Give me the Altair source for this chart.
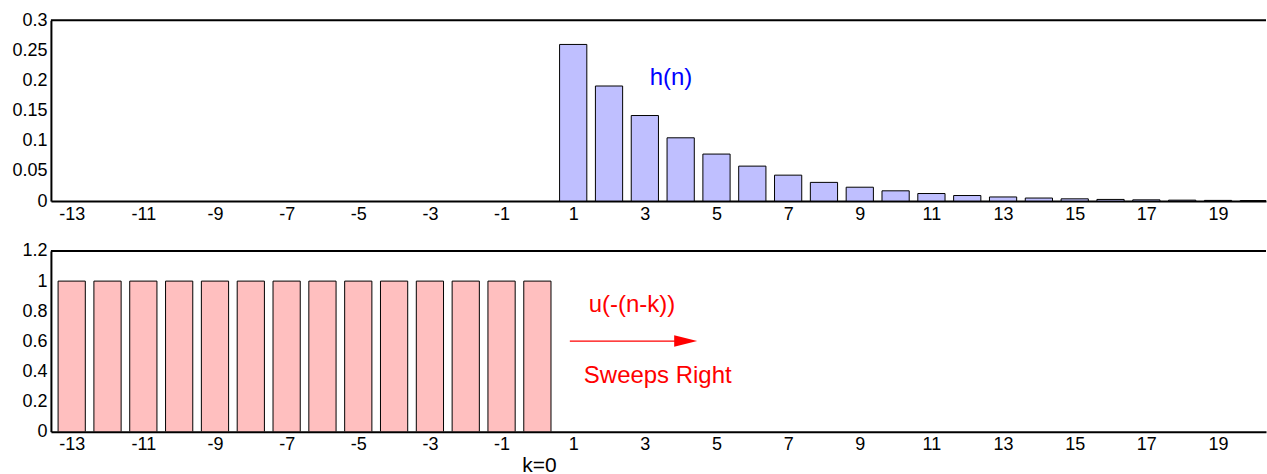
import altair as alt
import pandas as pd

FONT = "Liberation Sans"

# ---- data ----
n_top = [1, 2, 3, 4, 5, 6, 7, 8, 9, 10, 11, 12, 13, 14, 15, 16, 17, 18, 19, 20]
h_vals = [0.26, 0.191, 0.142, 0.105, 0.078, 0.058, 0.043, 0.031, 0.023, 0.017,
          0.0125, 0.0092, 0.0068, 0.005, 0.0037, 0.0027, 0.002, 0.0015, 0.0011, 0.0008]
n_bot = [-13, -12, -11, -10, -9, -8, -7, -6, -5, -4, -3, -2, -1, 0]
u_vals = [1, 1, 1, 1, 1, 1, 1, 1, 1, 1, 1, 1, 1, 1]
x_ticks = [-13, -11, -9, -7, -5, -3, -1, 1, 3, 5, 7, 9, 11, 13, 15, 17, 19]
y_ticks_top = [0, 0.05, 0.1, 0.15, 0.2, 0.25, 0.3]
y_ticks_bot = [0, 0.2, 0.4, 0.6, 0.8, 1, 1.2]

W = 1217
H = 181
XDOM = [-13.58, 20.34]
HALF = 0.38

top_df = pd.DataFrame({"n": n_top, "v": h_vals})
bot_df = pd.DataFrame({"n": n_bot, "v": u_vals})
one = pd.DataFrame({"a": [0]})

XS = alt.Scale(domain=XDOM, nice=False, zero=False)


def x_axis():
    return alt.Axis(values=x_ticks, ticks=False, grid=False, domainColor="black",
                    domainWidth=2, labelFont=FONT, labelFontSize=18, labelColor="black",
                    labelPadding=4, title=None, labelFlush=False, labelOverlap=False,
                    labelExpr="'' + datum.value")


def y_axis(vals):
    return alt.Axis(values=vals, ticks=False, grid=False, domainColor="black",
                    domainWidth=2, labelFont=FONT, labelFontSize=18, labelColor="black",
                    labelPadding=4, title=None, labelOverlap=False, labelFlush=False,
                    labelExpr="'' + datum.value")


def make_panel(df, ymax, yvals, fill, extras):
    ys = alt.Scale(domain=[0, ymax], nice=False, zero=True)
    xa = x_axis()
    ya = y_axis(yvals)
    bars = alt.Chart(df).transform_calculate(
        lo=f"datum.n - {HALF}", hi=f"datum.n + {HALF}"
    ).mark_bar(fill=fill, stroke="black", strokeWidth=1, clip=True).encode(
        x=alt.X("lo:Q", scale=XS, axis=xa),
        x2="hi:Q",
        y=alt.Y("v:Q", scale=ys, axis=ya),
        y2=alt.Y2(datum=0),
    )
    border = alt.Chart(one).mark_rule(color="black", strokeWidth=2).encode(
        x=alt.value(0), x2=alt.value(W), y=alt.value(0)
    )
    layers = [bars, border]
    for mark, xv, yv, x2v in extras:
        enc = {
            "x": alt.X(datum=xv, scale=XS, axis=xa),
            "y": (alt.Y(datum=yv, scale=ys, axis=ya) if not isinstance(yv, str) else alt.value(H + 40)),
        }
        if x2v is not None:
            enc["x2"] = alt.X2(datum=x2v)
        layers.append(mark.encode(**enc))
    return alt.layer(*layers).properties(width=W, height=H)


top = make_panel(
    top_df, 0.3, y_ticks_top, "#bfbfff",
    [
        (alt.Chart(one).mark_text(text="h(n)", font=FONT, fontSize=24, color="#0000ff",
                                  align="center", baseline="middle"), 3.73, 0.204, None),
    ],
)

bottom = make_panel(
    bot_df, 1.2, y_ticks_bot, "#ffbfbf",
    [
        (alt.Chart(one).mark_text(text="u(-(n-k))", font=FONT, fontSize=24, color="#ff0000",
                                  align="center", baseline="alphabetic"), 2.64, 0.795, None),
        (alt.Chart(one).mark_text(text="Sweeps Right", font=FONT, fontSize=24, color="#ff0000",
                                  align="center", baseline="alphabetic"), 3.36, 0.323, None),
        (alt.Chart(one).mark_rule(color="#ff0000", strokeWidth=1.3), 0.906, 0.602, 4.2),
        (alt.Chart(one).mark_point(shape="M-1,-0.5L1,0L-1,0.5Z", filled=True, fill="#ff0000",
                                   size=529, opacity=1, strokeWidth=0), 4.14, 0.602, None),
        (alt.Chart(one).mark_text(text="k=0", font=FONT, fontSize=21, color="black",
                                  align="center", baseline="alphabetic"), 0.06, "below", None),
    ],
)

chart = alt.vconcat(top, bottom, spacing=50, bounds="flush").properties(
    padding={"left": 11, "top": 11, "right": 0, "bottom": 0},
    background="white",
).configure_view(strokeWidth=0)

chart.save("out.html", embed_options={"renderer": "svg", "actions": False})
